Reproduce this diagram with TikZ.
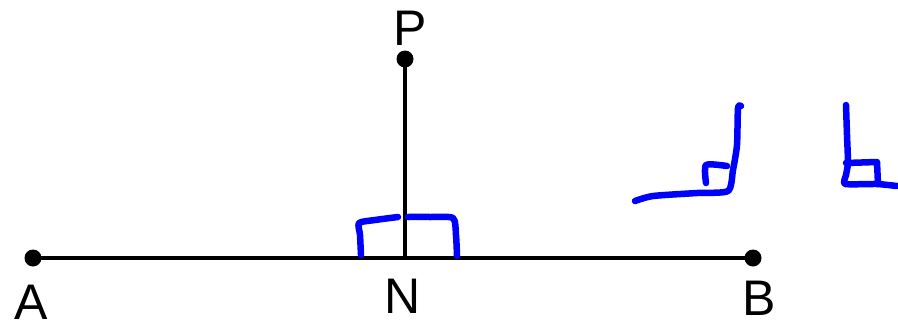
\documentclass[tikz,border=0pt]{standalone}
\usepackage{fontspec}
\setmainfont{Liberation Sans}
\begin{document}
\begin{tikzpicture}[x=1pt,y=-1pt,
  blk/.style={line width=4pt},
  dot/.style={circle,fill=black,inner sep=0pt,minimum size=17pt},
  lbl/.style={font=\fontsize{50}{50}\selectfont,inner sep=0pt},
  pen/.style={draw={rgb,255:red,0;green,0;blue,255},line width=6.5pt,line cap=round,line join=round}]
\useasboundingbox (0,0) rectangle (898,327);
\node[dot] (A) at (33,258) {};
\node[dot] (B) at (753,258) {};
\node[dot] (P) at (405,59) {};
\coordinate (N) at (405,258);
\draw[blk] (A.center) -- (B.center);
\draw[blk] (P.center) -- (N);
\node[lbl] (lA) at (31,302) {A};
\node[lbl] (lP) at (410,28) {P};
\node[lbl] (lN) at (403,296) {N};
\node[lbl] (lB) at (759,298) {B};
% right-angle marks at N
\draw[pen] plot[smooth,tension=0.4] coordinates {(361,255) (360,235) (359,223) (375,220) (398,217)};
\draw[pen] plot[smooth,tension=0.4] coordinates {(408,217) (430,217) (453,218) (456,235) (457,256)};
% left sketch
\draw[pen] plot[smooth,tension=0.4] coordinates {(635,201) (653,196) (697,193) (728,191) (733,170) (737,145) (738,108) (741,106)};
\draw[pen] plot[smooth,tension=0.4] coordinates {(706,183) (706,165) (727,166)};
% right sketch
\draw[pen] plot[smooth,tension=0.3] coordinates {(846,105) (847,135) (848,163) (846,175) (845,184) (877,184) (897,186)};
\draw[pen] (846,163) -- (877,162) -- (878,184);
\end{tikzpicture}
\end{document}
